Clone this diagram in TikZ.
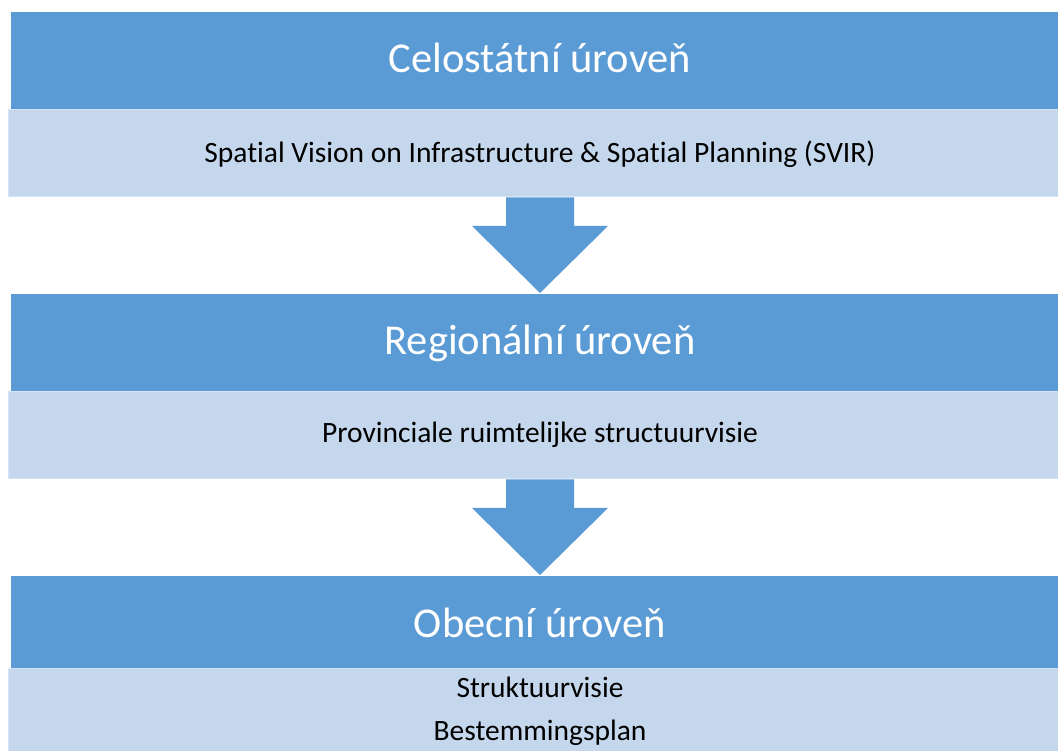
\documentclass[tikz,border=0pt]{standalone}
\usepackage{fontspec}
\setmainfont{Carlito}[Ligatures={NoCommon}]
\usetikzlibrary{calc}
\definecolor{levelblue}{HTML}{5B9BD5}
\definecolor{planblue}{HTML}{C5D7EC}
\definecolor{planedge}{HTML}{D6E3F2}
\begin{document}
\begin{tikzpicture}[x=1pt,y=1pt,
  levelbox/.style={draw=none,fill=levelblue,minimum width=1060pt,anchor=north west,inner sep=0pt,outer sep=0pt},
  planbox/.style={draw=planedge,line width=1pt,fill=planblue,minimum width=1060pt,anchor=north west,inner sep=0pt,outer sep=0pt},
  leveltext/.style={anchor=base,text=white,font=\fontsize{42.5}{50}\selectfont,inner sep=0pt},
  plantext/.style={anchor=base,text=black,font=\fontsize{29.5}{34}\selectfont,inner sep=0pt},
  downarrow/.style={fill=levelblue,draw=none}]
\useasboundingbox (0,0) rectangle (1058,751);
\clip (0,0) rectangle (1058,751);
\fill[white] (0,0) rectangle (1058,751);

% national level
\node[levelbox,minimum height=98pt] (lvl1) at (11,739) {};
\node[planbox,minimum height=87pt] (plan1) at (8,641) {};
\node[leveltext] (t1) at (540,678) {Celostátní úroveň};
\node[plantext] (p1) at (540,588) {Spatial Vision on Infrastructure \& Spatial Planning (SVIR)};

% regional level
\node[levelbox,minimum height=98pt] (lvl2) at (11,457) {};
\node[planbox,minimum height=87pt] (plan2) at (8,359) {};
\node[leveltext] (t2) at (540,396) {Regionální úroveň};
\node[plantext] (p2) at (540,308) {Provinciale ruimtelijke structuurvisie};

% municipal level
\node[levelbox,minimum height=93pt] (lvl3) at (11,175) {};
\node[planbox,minimum height=90pt] (plan3) at (8,82) {};
\node[leveltext] (t3) at (540,113) {Obecní úroveň};
\node[plantext] (p3a) at (540,53) {Struktuurvisie};
\node[plantext] (p3b) at (540,10) {Bestemmingsplan};

% block arrows between the levels
\foreach \a/\b in {plan1/lvl2,plan2/lvl3}{
  \path[downarrow]
    let \p1=(\a.south), \p2=(\b.north) in
    (506,\y1-0.5) -- (506,\y1-29) -- (472,\y1-29) -- (540,\y2+1)
    -- (608,\y1-29) -- (574,\y1-29) -- (574,\y1-0.5) -- cycle;
}
\end{tikzpicture}
\end{document}
